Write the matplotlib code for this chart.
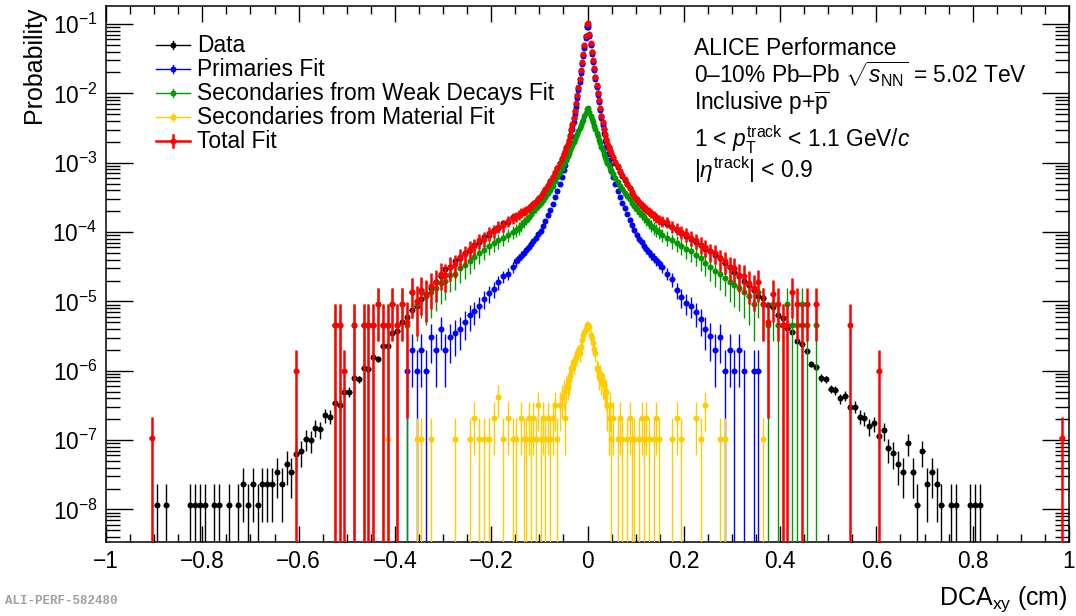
import numpy as np
import matplotlib
matplotlib.use("Agg")
import matplotlib.pyplot as plt
from matplotlib.lines import Line2D
from matplotlib.ticker import MultipleLocator, FuncFormatter, LogLocator, NullFormatter

plt.rcParams["font.family"] = ["Liberation Sans", "DejaVu Sans"]
plt.rcParams["mathtext.fontset"] = "custom"
plt.rcParams["mathtext.rm"] = "Liberation Sans"
plt.rcParams["mathtext.it"] = "Liberation Sans:italic"
plt.rcParams["mathtext.bf"] = "Liberation Sans:bold"

nan = np.nan

# bin centres of DCAxy (cm): 0.01 wide in the tails, 0.005 further in, 0.0025 around the peak
x_tail_l = np.arange(-0.895, -0.15, 0.01)
x_mid_l = np.arange(-0.1475, -0.05, 0.005)
x_core = np.arange(-0.04875, 0.05, 0.0025)
x_mid_r = np.arange(0.0525, 0.15, 0.005)
x_tail_r = np.arange(0.155, 0.9, 0.01)

# log10(probability) per bin, nan = empty bin
# order: tail left (75), mid left (20), core (40), mid right (20), tail right (75)
data_log = [
    -7.94, nan, -7.94, nan, nan, nan, nan, -7.94, -7.94, -7.94,
    -7.94, nan, -7.94, -7.94, nan, -7.94, nan, -7.94, -7.64, -7.94,
    -7.64, -7.94, -7.64, -7.64, -7.64, -7.46, -7.64, -7.34, -7.46, -7.2,
    -7.16, -6.98, -7.0, -6.82, -6.84, -6.64, -6.66, -6.46, -6.5, -6.3,
    -6.3, -6.1, -6.12, -5.96, -5.98, -5.8, -5.83, -5.64, -5.64, -5.46,
    -5.42, -5.3, -5.22, -5.12, -5.06, -4.96, -4.9, -4.8, -4.72, -4.63,
    -4.54, -4.5, -4.42, -4.38, -4.3, -4.26, -4.18, -4.14, -4.07, -4.04,
    -3.97, -3.94, -3.87, -3.85, -3.79,
    -3.77, -3.75, -3.73, -3.71, -3.68, -3.66, -3.63, -3.6, -3.57, -3.53,
    -3.49, -3.44, -3.39, -3.33, -3.27, -3.21, -3.15, -3.08, -3.01, -2.94,
    -2.88, -2.84, -2.79, -2.74, -2.68, -2.61, -2.53, -2.45, -2.36, -2.26,
    -2.15, -2.04, -1.92, -1.8, -1.68, -1.56, -1.44, -1.32, -1.18, -1.03,
    -1.02, -1.16, -1.29, -1.41, -1.53, -1.65, -1.77, -1.89, -2.0, -2.11,
    -2.22, -2.33, -2.43, -2.52, -2.6, -2.67, -2.73, -2.78, -2.83, -2.87,
    -2.93, -3.0, -3.06, -3.13, -3.19, -3.25, -3.31, -3.37, -3.43, -3.49,
    -3.54, -3.58, -3.62, -3.65, -3.68, -3.71, -3.74, -3.77, -3.8, -3.83,
    -3.85, -3.88, -3.92, -3.97, -4.01, -4.05, -4.1, -4.14, -4.19, -4.24,
    -4.28, -4.33, -4.38, -4.44, -4.51, -4.57, -4.63, -4.7, -4.77, -4.84,
    -4.92, -4.95, -5.05, -5.08, -5.2, -5.24, -5.38, -5.44, -5.57, -5.62,
    -5.72, -5.9, -5.94, -6.1, -6.12, -6.26, -6.28, -6.4, -6.36, -6.52,
    -6.52, -6.66, -6.68, -6.8, -6.76, -6.94, -6.86, -7.12, -7.18, -7.34,
    -7.46, -7.04, -7.46, -7.94, -7.16, -7.64, -7.46, -7.64, -7.94, nan,
    -7.94, -7.94, nan, nan, -7.94, -7.94, -7.94, nan, nan, nan,
    nan, nan, nan, nan, nan,
]

prim_log = [
    nan, nan, nan, nan, nan, nan, nan, nan, nan, nan,
    nan, nan, nan, nan, nan, nan, nan, nan, nan, nan,
    nan, nan, nan, nan, nan, nan, nan, nan, nan, nan,
    nan, nan, nan, nan, nan, nan, nan, nan, nan, nan,
    nan, nan, nan, nan, nan, nan, nan, nan, nan, nan,
    nan, nan, -6.0, -5.7, -6.0, -5.7, -6.0, -5.52, -5.7, -5.4,
    -5.7, -5.52, -5.46, -5.4, -5.3, -5.2, -5.14, -5.06, -4.96, -4.88,
    -4.82, -4.72, -4.64, -4.6, -4.5,
    -4.42, -4.38, -4.34, -4.3, -4.26, -4.22, -4.17, -4.13, -4.08, -4.03,
    -3.98, -3.91, -3.84, -3.76, -3.68, -3.59, -3.5, -3.41, -3.31, -3.2,
    -3.1, -3.03, -2.96, -2.88, -2.8, -2.71, -2.61, -2.51, -2.41, -2.3,
    -2.19, -2.07, -1.95, -1.83, -1.7, -1.58, -1.46, -1.34, -1.2, -1.05,
    -1.04, -1.18, -1.31, -1.43, -1.55, -1.67, -1.79, -1.91, -2.02, -2.13,
    -2.24, -2.35, -2.46, -2.57, -2.68, -2.78, -2.87, -2.96, -3.04, -3.12,
    -3.2, -3.31, -3.41, -3.5, -3.58, -3.66, -3.74, -3.82, -3.9, -3.97,
    -4.04, -4.1, -4.15, -4.2, -4.25, -4.29, -4.33, -4.37, -4.41, -4.45,
    -4.5, -4.6, -4.68, -4.84, -4.94, -5.02, -5.06, -5.16, -5.26, -5.4,
    -5.5, -5.7, -5.52, -6.0, -5.7, -6.0, -5.7, -6.0, nan, -6.0,
    -6.0, nan, nan, nan, nan, nan, nan, nan, nan, nan,
    nan, nan, nan, nan, nan, nan, nan, nan, nan, nan,
    nan, nan, nan, nan, nan, nan, nan, nan, nan, nan,
    nan, nan, nan, nan, nan, nan, nan, nan, nan, nan,
    nan, nan, nan, nan, nan, nan, nan, nan, nan, nan,
    nan, nan, nan, nan, nan,
]

weak_log = [
    nan, nan, nan, nan, nan, nan, nan, nan, nan, nan,
    nan, nan, nan, nan, nan, nan, nan, nan, nan, nan,
    nan, nan, nan, nan, nan, nan, nan, nan, nan, nan,
    nan, nan, nan, nan, nan, nan, nan, -5.34, -5.34, nan,
    nan, -5.34, nan, -5.34, -5.34, -5.34, -5.04, -5.34, -5.34, -5.04,
    -5.34, -5.04, -5.34, -4.86, -5.04, -4.86, -4.92, -4.86, -4.8, -4.74,
    -4.7, -4.62, -4.6, -4.52, -4.48, -4.42, -4.36, -4.3, -4.26, -4.2,
    -4.16, -4.12, -4.08, -4.04, -4.0,
    -3.97, -3.94, -3.9, -3.86, -3.82, -3.78, -3.74, -3.7, -3.66, -3.62,
    -3.58, -3.54, -3.49, -3.44, -3.39, -3.33, -3.27, -3.21, -3.15, -3.08,
    -3.02, -2.98, -2.94, -2.9, -2.86, -2.82, -2.78, -2.74, -2.7, -2.66,
    -2.62, -2.58, -2.54, -2.5, -2.46, -2.42, -2.38, -2.33, -2.28, -2.22,
    -2.21, -2.27, -2.32, -2.37, -2.42, -2.47, -2.52, -2.57, -2.62, -2.67,
    -2.72, -2.77, -2.82, -2.87, -2.92, -2.96, -3.0, -3.04, -3.08, -3.12,
    -3.16, -3.22, -3.28, -3.33, -3.38, -3.43, -3.48, -3.53, -3.58, -3.63,
    -3.67, -3.71, -3.75, -3.79, -3.83, -3.87, -3.91, -3.94, -3.97, -4.0,
    -4.04, -4.08, -4.12, -4.16, -4.2, -4.24, -4.28, -4.33, -4.38, -4.44,
    -4.5, -4.56, -4.6, -4.66, -4.72, -4.76, -4.8, -4.86, -4.92, -5.04,
    -4.86, -5.04, -5.34, -5.04, -5.34, -5.34, -5.04, -5.34, -5.34, -5.04,
    -5.34, nan, -5.34, nan, nan, nan, nan, nan, nan, nan,
    nan, nan, nan, nan, nan, nan, nan, nan, nan, nan,
    nan, nan, nan, nan, nan, nan, nan, nan, nan, nan,
    nan, nan, nan, nan, nan, nan, nan, nan, nan, nan,
    nan, nan, nan, nan, nan,
]

mat_log = [
    nan, nan, nan, nan, nan, nan, nan, nan, nan, nan,
    nan, nan, nan, nan, nan, nan, nan, nan, nan, nan,
    nan, nan, nan, nan, nan, nan, nan, nan, nan, nan,
    nan, nan, nan, nan, nan, nan, nan, nan, nan, nan,
    nan, nan, nan, nan, nan, nan, nan, nan, -6.98, nan,
    nan, nan, nan, nan, -6.98, -6.98, nan, -6.98, nan, nan,
    nan, nan, -6.98, nan, nan, -6.98, -6.68, -6.98, -6.98, -6.98,
    -6.68, -6.38, -6.98, -6.68, -6.98,
    -6.98, nan, -6.68, -6.98, -6.98, -6.68, -6.98, -6.68, -6.98, -6.5,
    -6.98, -6.68, -6.98, -6.68, -6.98, -6.68, -6.5, -6.98, -6.5, -6.38,
    -6.3, -6.68, -6.23, -6.2, -6.14, -6.08, -5.96, -5.94, -5.9, -5.85,
    -5.8, -5.75, -5.72, -5.75, -5.66, -5.55, -5.48, -5.44, -5.4, -5.34,
    -5.34, -5.37, -5.48, -5.53, -5.6, -5.68, -5.75, -5.96, -5.99, -6.08,
    -6.04, -6.14, -6.18, -6.2, -6.28, -6.3, -6.5, -6.68, -6.5, -6.98,
    -6.68, nan, -6.98, -6.68, -6.98, nan, -6.98, -6.68, -6.98, -6.98,
    nan, -6.98, -6.68, -6.98, -6.68, -6.98, nan, -6.98, -6.68, -6.98,
    nan, nan, -6.98, -6.68, -6.98, nan, nan, -6.68, -6.98, -6.5,
    nan, nan, -6.98, -6.98, nan, nan, nan, nan, nan, nan,
    nan, -6.98, nan, nan, nan, nan, nan, nan, nan, nan,
    nan, nan, nan, nan, nan, nan, nan, nan, nan, nan,
    nan, nan, nan, nan, nan, nan, nan, nan, nan, nan,
    nan, nan, nan, nan, nan, nan, nan, nan, nan, nan,
    nan, nan, nan, nan, nan, nan, nan, nan, nan, nan,
    nan, nan, nan, nan, nan,
]

total_log = [
    nan, nan, nan, nan, nan, nan, nan, nan, nan, nan,
    nan, nan, nan, nan, nan, nan, nan, nan, nan, nan,
    nan, nan, nan, nan, nan, nan, nan, nan, nan, -6.0,
    nan, nan, nan, nan, nan, nan, nan, -5.34, -5.34, -6.0,
    nan, -5.34, nan, -5.34, -5.34, -5.34, -5.04, -5.34, -5.34, -5.04,
    -5.34, -5.04, -5.3, -4.86, -5.0, -4.84, -4.9, -4.78, -4.72, -4.6,
    -4.62, -4.5, -4.46, -4.36, -4.32, -4.24, -4.2, -4.12, -4.1, -4.02,
    -3.98, -3.92, -3.9, -3.84, -3.8,
    -3.77, -3.75, -3.72, -3.7, -3.68, -3.65, -3.62, -3.6, -3.56, -3.52,
    -3.48, -3.43, -3.38, -3.32, -3.26, -3.2, -3.14, -3.07, -3.0, -2.93,
    -2.87, -2.83, -2.78, -2.73, -2.67, -2.6, -2.52, -2.44, -2.35, -2.25,
    -2.14, -2.03, -1.91, -1.79, -1.67, -1.55, -1.43, -1.31, -1.17, -1.0,
    -0.99, -1.15, -1.28, -1.4, -1.52, -1.64, -1.76, -1.88, -1.99, -2.1,
    -2.21, -2.32, -2.42, -2.51, -2.59, -2.66, -2.72, -2.77, -2.82, -2.86,
    -2.92, -2.99, -3.05, -3.12, -3.18, -3.24, -3.3, -3.36, -3.42, -3.48,
    -3.53, -3.57, -3.61, -3.64, -3.67, -3.7, -3.73, -3.76, -3.79, -3.82,
    -3.84, -3.86, -3.92, -3.95, -4.0, -4.03, -4.08, -4.12, -4.18, -4.22,
    -4.28, -4.3, -4.38, -4.42, -4.5, -4.52, -4.62, -4.64, -4.74, -4.8,
    -4.72, -5.04, -5.3, -4.9, -5.04, -5.34, -5.34, -4.86, -5.04, -5.34,
    -5.04, nan, -5.04, nan, nan, nan, nan, nan, nan, -5.34,
    nan, nan, nan, nan, nan, -6.0, nan, nan, nan, nan,
    nan, nan, nan, nan, nan, nan, nan, nan, nan, nan,
    nan, nan, nan, nan, nan, nan, nan, nan, nan, nan,
    nan, nan, nan, nan, nan,
]

# two lone total-fit bins far out in the tails
total_far_x = [-0.905, 0.985]
total_far_log = [-6.97, -6.97]

# probability carried by a single entry in each histogram
unit_data = 1.15e-8
unit_prim = 1.0e-6
unit_weak = 4.6e-6
unit_mat = 1.05e-7
unit_total = 4.6e-6

W, H = 1076, 616
fig = plt.figure(figsize=(W / 100, H / 100), dpi=100)
ax = fig.add_axes([106 / W, 1 - 542 / H, (1069 - 106) / W, (542 - 6) / H])

xc = np.concatenate([x_tail_l, x_mid_l, x_core, x_mid_r, x_tail_r])
hw = np.concatenate([np.full(len(x_tail_l), 0.005), np.full(len(x_mid_l), 0.0025),
                     np.full(len(x_core), 0.00125), np.full(len(x_mid_r), 0.0025),
                     np.full(len(x_tail_r), 0.005)])


def draw(x, halfw, logv, unit, color, lw, z):
    v = 10.0 ** np.asarray(logv, dtype=float)
    x = np.asarray(x, dtype=float)
    halfw = np.broadcast_to(halfw, x.shape)
    ok = np.isfinite(v)
    x, halfw, v = x[ok], halfw[ok], v[ok]
    # poisson error; single-entry bins get a 100 % error down to zero
    err = np.sqrt(v * np.minimum(v, unit))
    lo = np.minimum(err, v - 1e-15)
    ax.errorbar(x, v, yerr=[lo, err], xerr=halfw, fmt="o", color=color, ms=4.3,
                mew=0, elinewidth=lw, capsize=0, zorder=z)


c_data = "black"
c_prim = "#0000ff"
c_weak = "#009900"
c_mat = "#ffcc00"
c_total = "#ff0000"

draw(xc, hw, data_log, unit_data, c_data, 1.0, 2)
draw(xc, hw, prim_log, unit_prim, c_prim, 1.0, 3)
draw(xc, hw, weak_log, unit_weak, c_weak, 1.0, 4)
draw(xc, hw, mat_log, unit_mat, c_mat, 1.0, 5)
draw(xc, hw, total_log, unit_total, c_total, 1.8, 6)
draw(total_far_x, 0.005, total_far_log, unit_total, c_total, 1.8, 6)

ax.set_yscale("log")
ax.set_xlim(-1, 1)
ax.set_ylim(10 ** (-1 - 518 / 69.35), 10 ** (-1 + 18 / 69.35))

ax.xaxis.set_major_locator(MultipleLocator(0.2))
ax.xaxis.set_minor_locator(MultipleLocator(0.05))
ax.xaxis.set_major_formatter(FuncFormatter(
    lambda v, p: ("%g" % round(v, 2)).replace("-", "\u2212")))
ax.yaxis.set_major_locator(LogLocator(base=10, numticks=20))
ax.yaxis.set_minor_locator(LogLocator(base=10, subs=np.arange(2, 10), numticks=20))
ax.yaxis.set_minor_formatter(NullFormatter())

ax.tick_params(which="both", direction="in", top=True, right=True, width=1.0,
               labelsize=16.4, colors="black")
ax.tick_params(axis="x", which="major", length=11.5, pad=6)
ax.tick_params(axis="x", which="minor", length=5.8)
ax.tick_params(axis="y", which="major", length=19.5, pad=6)
ax.tick_params(axis="y", which="minor", length=10)
for s in ax.spines.values():
    s.set_linewidth(1.1)


def fx(px):
    return px / W


def fy(py):
    return 1 - py / H


# axis titles
fig.text(fx(34.5), fy(7), "Probability", rotation=90, ha="center", va="top", fontsize=18)
fig.text(fx(1068), fy(605), r"DCA$_{\mathrm{xy}}$ (cm)", ha="right", va="baseline", fontsize=18)
fig.text(fx(5), fy(604), "ALI-PERF-582480", ha="left", va="baseline", fontsize=9,
         family="Liberation Mono", weight="bold", color="#a0a0a0")

# legend, drawn by hand in ROOT style
leg_labels = ["Data", "Primaries Fit", "Secondaries from Weak Decays Fit",
              "Secondaries from Material Fit", "Total Fit"]
leg_colors = [c_data, c_prim, c_weak, c_mat, c_total]
leg_lw = [1.0, 1.0, 1.0, 1.0, 1.8]
leg_base = [52, 76, 100, 124, 148]
for lab, col, lw, yb in zip(leg_labels, leg_colors, leg_lw, leg_base):
    yc = yb - 7
    fig.add_artist(Line2D([fx(156), fx(190)], [fy(yc), fy(yc)], color=col, lw=lw))
    bar = 6 if lw > 1.5 else 4
    fig.add_artist(Line2D([fx(173), fx(173)], [fy(yc - bar), fy(yc + bar)], color=col, lw=lw))
    fig.add_artist(Line2D([fx(173)], [fy(yc)], color=col, marker="o", ms=4.3, mew=0))
    fig.text(fx(197), fy(yb), lab, ha="left", va="baseline", fontsize=16.4)

# performance labels
info = [
    (55, "ALICE Performance"),
    (83, "0\u201310% Pb\u2013Pb $\\sqrt{s_{\\mathrm{NN}}}$ = 5.02 TeV"),
    (110, r"Inclusive p+$\overline{\mathrm{p}}$"),
    (148, r"1 < $p_{\mathrm{T}}^{\mathrm{track}}$ < 1.1 GeV/$c$"),
    (178, r"|$\eta^{\mathrm{track}}$| < 0.9"),
]
for yb, txt in info:
    fig.text(fx(694), fy(yb), txt, ha="left", va="baseline", fontsize=16.4)

fig.savefig("out.png", dpi=100)
